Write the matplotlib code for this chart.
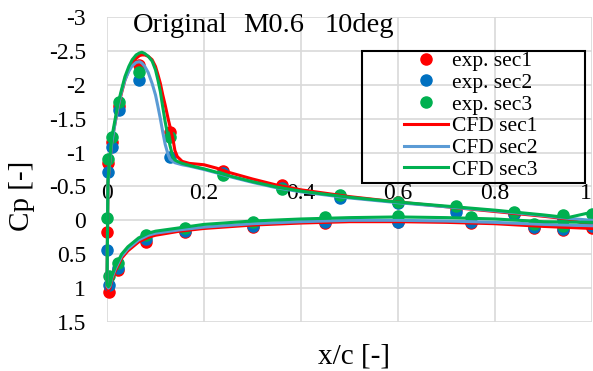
import matplotlib
matplotlib.use("Agg")
import matplotlib.pyplot as plt
from matplotlib.lines import Line2D
from matplotlib.patches import Rectangle

plt.rcParams['font.family'] = ['Liberation Serif', 'DejaVu Serif']

# ---------------- data ----------------
# experimental taps
exp_le_x = [0.0]
exp_le_sec1 = [0.17]
exp_le_sec2 = [0.44]
exp_le_sec3 = [-0.03]

exp_up_x = [0.002, 0.01, 0.025, 0.065, 0.13, 0.24, 0.36, 0.48, 0.60, 0.72, 0.84, 0.94]
exp_up_sec1 = [-0.85, -1.15, -1.68, -2.29, -1.30, -0.73, -0.52, -0.36, -0.27, -0.17, -0.10, -0.04]
exp_up_sec2 = [-0.71, -1.08, -1.63, -2.07, -0.94, -0.70, -0.48, -0.33, -0.26, -0.12, -0.09, -0.02]
exp_up_sec3 = [-0.91, -1.23, -1.75, -2.19, -1.23, -0.67, -0.46, -0.37, -0.27, -0.21, -0.12, -0.08]

exp_lo_x = [0.005, 0.022, 0.08, 0.16, 0.30, 0.45, 0.60, 0.75, 0.88, 0.94, 1.0]
exp_lo_sec1 = [1.05, 0.73, 0.32, 0.17, 0.10, 0.04, 0.02, 0.04, 0.11, 0.14, 0.12]
exp_lo_sec2 = [0.95, 0.70, 0.28, 0.15, 0.08, 0.03, 0.02, 0.03, 0.10, 0.13, 0.09]
exp_lo_sec3 = [0.82, 0.63, 0.21, 0.11, 0.02, -0.05, -0.07, -0.05, 0.05, 0.08, -0.10]

# CFD: lower surface from TE to LE, then upper surface from LE to TE
cfd_lo_x = [1.0, 0.9, 0.8, 0.7, 0.6, 0.5, 0.4, 0.3, 0.2, 0.15, 0.1, 0.085, 0.065,
            0.043, 0.03, 0.017, 0.01, 0.006, 0.003, 0.0]
cfd_lo_sec1 = [0.12, 0.09, 0.05, 0.03, 0.02, 0.02, 0.04, 0.07, 0.12, 0.16, 0.22, 0.25, 0.32,
               0.45, 0.56, 0.75, 0.88, 1.0, 1.04, 1.0]
cfd_lo_sec2 = [0.08, 0.06, 0.03, 0.01, 0.0, 0.0, 0.02, 0.05, 0.10, 0.14, 0.19, 0.22, 0.29,
               0.42, 0.53, 0.72, 0.85, 0.97, 1.0, 0.97]
cfd_lo_sec3 = [0.03, 0.02, -0.02, -0.04, -0.05, -0.04, -0.02, 0.01, 0.06, 0.11, 0.16, 0.19, 0.26,
               0.39, 0.50, 0.69, 0.82, 0.95, 0.98, 0.95]

cfd_up_x = [0.002, 0.005, 0.01, 0.017, 0.023, 0.03, 0.037, 0.045, 0.052, 0.06,
            0.067, 0.072, 0.078, 0.085, 0.093, 0.1, 0.105, 0.11, 0.115, 0.12,
            0.126, 0.13, 0.136, 0.14, 0.145, 0.155, 0.17, 0.2, 0.226, 0.25,
            0.3, 0.35, 0.4, 0.5, 0.6, 0.7, 0.8, 0.9, 0.95, 1.0]
cfd_up_sec1 = [-0.55, -0.8, -1.17, -1.45, -1.68, -1.88, -2.07, -2.22, -2.32, -2.39,
               -2.43, -2.44, -2.44, -2.42, -2.37, -2.27, -2.15, -2.02, -1.85, -1.7,
               -1.5, -1.38, -1.2, -1.03, -0.94, -0.87, -0.84, -0.82, -0.77, -0.71,
               -0.61, -0.52, -0.45, -0.35, -0.27, -0.2, -0.13, -0.06, -0.02, 0.08]
cfd_up_sec2 = [-0.55, -0.8, -1.15, -1.45, -1.68, -1.9, -2.07, -2.2, -2.28, -2.33,
               -2.34, -2.32, -2.27, -2.18, -2.02, -1.85, -1.68, -1.5, -1.3, -1.12,
               -0.97, -0.9, -0.87, -0.85, -0.84, -0.82, -0.8, -0.75, -0.7, -0.65,
               -0.56, -0.48, -0.42, -0.33, -0.26, -0.2, -0.14, -0.07, -0.03, 0.0]
cfd_up_sec3 = [-0.6, -0.85, -1.23, -1.5, -1.73, -1.93, -2.12, -2.27, -2.37, -2.44,
               -2.47, -2.48, -2.46, -2.42, -2.35, -2.22, -2.07, -1.9, -1.67, -1.45,
               -1.23, -1.1, -0.93, -0.89, -0.87, -0.84, -0.81, -0.76, -0.71, -0.66,
               -0.57, -0.49, -0.43, -0.34, -0.27, -0.21, -0.15, -0.08, -0.04, -0.12]

x_ticks = [0, 0.2, 0.4, 0.6, 0.8, 1.0]
x_tick_labels = ["0", "0.2", "0.4", "0.6", "0.8", "1"]
y_ticks = [-3, -2.5, -2, -1.5, -1, -0.5, 0, 0.5, 1, 1.5]
y_tick_labels = ["-3", "-2.5", "-2", "-1.5", "-1", "-0.5", "0", "0.5", "1", "1.5"]

exp_labels = ["exp. sec1", "exp. sec2", "exp. sec3"]
cfd_labels = ["CFD sec1", "CFD sec2", "CFD sec3"]
marker_colors = ["#FF0000", "#0070C0", "#00B050"]
line_colors = ["#FF0000", "#5B9BD5", "#00B050"]

# ---------------- figure ----------------
W, H = 593, 371
fig = plt.figure(figsize=(W / 100, H / 100), dpi=100)
ax = fig.add_axes([107 / W, 1 - 322 / H, 485 / W, 305 / H])

grid_c = "#D9D9D9"
for s in ax.spines.values():
    s.set_visible(False)
ax.set_xlim(0, 1)
ax.set_ylim(1.5, -3)
ax.set_xticks(x_ticks)
ax.set_yticks(y_ticks)
ax.set_yticklabels(y_tick_labels, fontsize=17)
ax.set_xticklabels([])
ax.tick_params(length=0, pad=15)
ax.grid(True, color=grid_c, lw=1.2)
ax.set_axisbelow(True)

for xv, lab in zip(x_ticks, x_tick_labels):
    if xv >= 1.0:
        ax.text(xv, -0.40, lab, ha="right", va="center", fontsize=17, clip_on=False)
    else:
        ax.text(xv, -0.40, lab, ha="center", va="center", fontsize=17, clip_on=False)

exp_sets = [
    (exp_le_sec1, exp_up_sec1, exp_lo_sec1),
    (exp_le_sec2, exp_up_sec2, exp_lo_sec2),
    (exp_le_sec3, exp_up_sec3, exp_lo_sec3),
]
for (le, up, lo), c in zip(exp_sets, marker_colors):
    xs = exp_le_x + exp_up_x + exp_lo_x
    ys = le + up + lo
    ax.plot(xs, ys, linestyle="none", marker="o", ms=8, color=c, clip_on=False, zorder=3)

cfd_sets = [
    (cfd_lo_sec1, cfd_up_sec1),
    (cfd_lo_sec2, cfd_up_sec2),
    (cfd_lo_sec3, cfd_up_sec3),
]
for (lo, up), c in zip(cfd_sets, line_colors):
    ax.plot(cfd_lo_x + cfd_up_x, lo + up, color=c, lw=2.2, zorder=4, clip_on=False,
            solid_joinstyle="round")

# title
fig.text(133 / W, 1 - 32 / H, "Original", fontsize=20.5, va="baseline", ha="left")
fig.text(243 / W, 1 - 32 / H, "M0.6", fontsize=20.5, va="baseline", ha="left")
fig.text(325 / W, 1 - 32 / H, "10deg", fontsize=20.5, va="baseline", ha="left")

# axis labels
fig.text(22 / W, 1 - 196 / H, "Cp [-]", fontsize=21, rotation=90, ha="center", va="center")
fig.text(354 / W, 1 - 357 / H, "x/c [-]", fontsize=21, ha="center", va="center")

# legend
handles = []
for c, lab in zip(marker_colors, exp_labels):
    handles.append(Line2D([], [], linestyle="none", marker="o", ms=8, color=c, label=lab))
for c, lab in zip(line_colors, cfd_labels):
    handles.append(Line2D([], [], color=c, lw=2.2, label=lab))
leg = fig.legend(handles=handles, loc="upper left", bbox_to_anchor=(404 / W, 1 - 51 / H),
                 frameon=False, fontsize=15.5, handlelength=2.05, handletextpad=0.18,
                 labelspacing=0.08, borderpad=0.0, borderaxespad=0.0, numpoints=1)
fig.patches.append(Rectangle((362 / W, 1 - 183 / H), 223 / W, 132 / H,
                             transform=fig.transFigure, fill=False, ec="black", lw=1.5,
                             zorder=5))

fig.savefig("out.png", dpi=100)
